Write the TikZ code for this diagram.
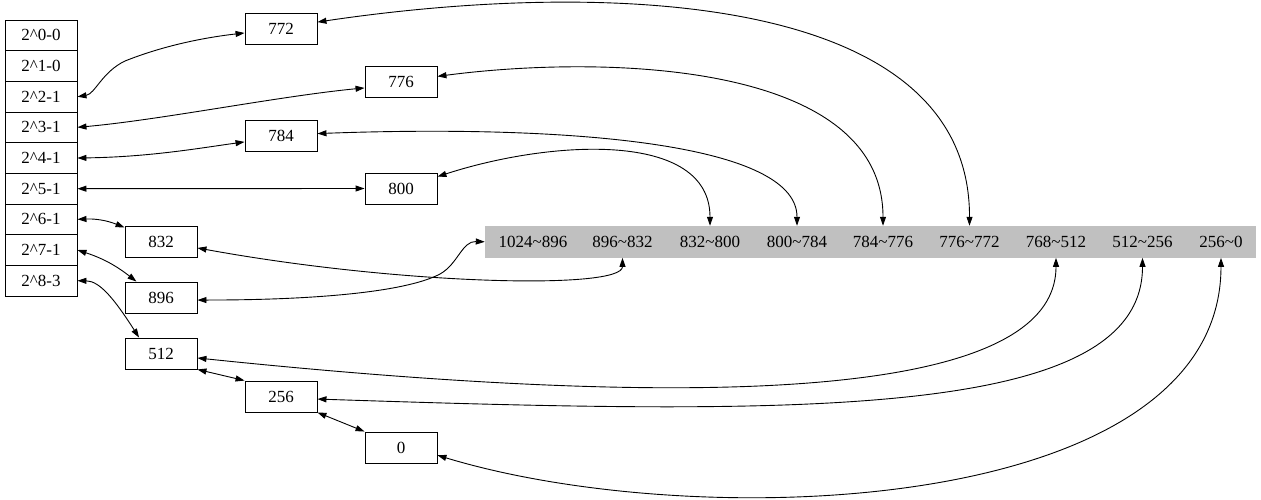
\documentclass[tikz,border=0pt]{standalone}
\usepackage{fontspec}
\setmainfont{Liberation Serif}
\usetikzlibrary{arrows.meta}
\definecolor{bargray}{RGB}{192,192,192}
\begin{document}
\begin{tikzpicture}[x=1pt,y=-1pt,
  box/.style={draw, line width=0.9pt, minimum width=72pt, minimum height=31pt, inner sep=0pt, font=\fontsize{17}{20}\selectfont},
  cell/.style={box, minimum height=30.67pt},
  lab/.style={inner sep=0pt, font=\fontsize{17}{20}\selectfont},
  conn/.style={line width=0.9pt, >={Triangle[length=9pt,width=6pt]}, <->}]
\useasboundingbox (0,0) rectangle (1261,499);
% left column
\node[cell] (r0) at (41,35.3) {2\^{}0-0};
\node[cell] (r1) at (41,66.0) {2\^{}1-0};
\node[cell] (r2) at (41,96.7) {2\^{}2-1};
\node[cell] (r3) at (41,127.3) {2\^{}3-1};
\node[cell] (r4) at (41,158.0) {2\^{}4-1};
\node[cell] (r5) at (41,188.7) {2\^{}5-1};
\node[cell] (r6) at (41,219.3) {2\^{}6-1};
\node[cell] (r7) at (41,250.0) {2\^{}7-1};
\node[cell] (r8) at (41,280.7) {2\^{}8-3};
% boxes
\node[box] (n772) at (281,28.5) {772};
\node[box] (n776) at (401,81.5) {776};
\node[box] (n784) at (281,135.5) {784};
\node[box] (n800) at (401,188.5) {800};
\node[box] (n832) at (161,241.5) {832};
\node[box] (n896) at (161,297.5) {896};
\node[box] (n512) at (161,353.5) {512};
\node[box] (n256) at (281,396.5) {256};
\node[box] (n0) at (401,447.5) {0};
% bar
\node[fill=bargray, minimum width=771pt, minimum height=31.7pt, inner sep=0pt] (bar) at (870.5,241.8) {};
\node[lab] (l1) at (533,242) {1024\char`\~896};
\node[lab] (l2) at (622.5,242) {896\char`\~832};
\node[lab] (l3) at (710,242) {832\char`\~800};
\node[lab] (l4) at (797,242) {800\char`\~784};
\node[lab] (l5) at (883,242) {784\char`\~776};
\node[lab] (l6) at (969.5,242) {776\char`\~772};
\node[lab] (l7) at (1056,242) {768\char`\~512};
\node[lab] (l8) at (1142.5,242) {512\char`\~256};
\node[lab] (l9) at (1221,242) {256\char`\~0};
% left-side connectors
\draw[conn] (r2.east) .. controls (95,94) and (102,72) .. (125,61) .. controls (160,47) and (200,38) .. (n772.187);
\draw[conn] (r3.east) .. controls (160,120) and (280,96) .. (n776.190);
\draw[conn] (r4.east) .. controls (150,157) and (200,148) .. (n784.190);
\draw[conn] (r5.east) -- (n800.west);
\draw[conn] (r6.east) to[bend left=12] (n832.159);
\draw[conn] (r7.east) to[bend left=10] (n896.147);
\draw[conn] (r8.east) .. controls (100,281) and (115,300) .. (n512.144);
\draw[conn] (n512.south east) -- (n256.north west);
\draw[conn] (n256.south east) -- (n0.north west);
% connectors to the bar
\draw[conn] (n772.10) .. controls (600,-20) and (970,-10) .. (l6 |- bar.north);
\draw[conn] (n776.8) .. controls (600,55) and (883,60) .. (l5 |- bar.north);
\draw[conn] (n784.3) .. controls (550,125) and (797,140) .. (l4 |- bar.north);
\draw[conn] (n800.18) .. controls (550,140) and (710,130) .. (l3 |- bar.north);
\draw[conn] (n832.350) .. controls (400,285) and (622.5,290) .. (l2 |- bar.south);
\draw[conn] (n896.356) .. controls (330,300) and (410,290) .. (440,274) .. controls (458,264) and (462,241) .. (bar.west);
\draw[conn] (n512.353) .. controls (650,405) and (1056,410) .. (l7 |- bar.south);
\draw[conn] (n256.356) .. controls (800,415) and (1142.5,420) .. (l8 |- bar.south);
\draw[conn] (n0.348) .. controls (700,535) and (1221,515) .. (l9 |- bar.south);
\end{tikzpicture}
\end{document}
